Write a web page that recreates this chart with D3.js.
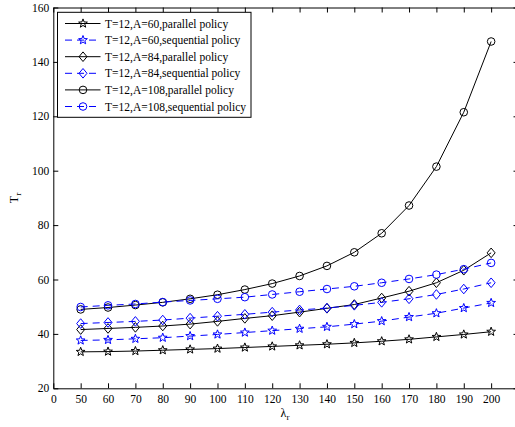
<!DOCTYPE html>
<html>
<head>
<meta charset="utf-8">
<script src="https://cdn.jsdelivr.net/npm/d3@7"></script>
<style>
  html, body { margin: 0; padding: 0; background: #fff; }
  svg { display: block; }
  text { font-family: "Liberation Serif", "Times New Roman", serif; }
</style>
</head>
<body>
<svg id="chart" width="515" height="427"></svg>
<script>
// ---- data ----
const xTickLabels = ["0","50","60","70","80","90","100","110","120","130","140","150","160","170","180","190","200"];
const lambdas = [50,60,70,80,90,100,110,120,130,140,150,160,170,180,190,200];
const yTicks = [20,40,60,80,100,120,140,160];

const a60Parallel   = [33.4,33.5,33.7,34.0,34.3,34.6,35.0,35.4,35.8,36.2,36.7,37.3,38.0,38.9,39.8,40.8];
const a60Sequential = [37.6,37.8,38.2,38.6,39.2,39.8,40.5,41.2,41.9,42.6,43.6,44.7,46.2,47.6,49.5,51.4];
const a84Parallel   = [41.6,42.0,42.4,42.9,43.6,44.6,45.7,46.7,48.0,49.4,50.8,53.2,55.7,58.8,63.4,69.8];
const a84Sequential = [43.8,44.2,44.6,45.1,45.8,46.5,47.2,48.0,48.8,49.5,50.5,51.6,52.9,54.5,56.5,58.8];
const a108Parallel  = [49.0,49.7,50.6,51.6,52.9,54.4,56.3,58.5,61.3,65.0,70.0,77.0,87.2,101.5,121.5,147.5];
const a108Sequential= [49.9,50.5,51.0,51.7,52.3,52.9,53.5,54.5,55.5,56.5,57.5,58.8,60.2,61.8,63.8,66.1];

const seriesNames = [
  "T=12,A=60,parallel policy",
  "T=12,A=60,sequential policy",
  "T=12,A=84,parallel policy",
  "T=12,A=84,sequential policy",
  "T=12,A=108,parallel policy",
  "T=12,A=108,sequential policy"
];
const seriesValues = [a60Parallel, a60Sequential, a84Parallel, a84Sequential, a108Parallel, a108Sequential];
const seriesMarkers = ["star","star","diamond","diamond","circle","circle"];
const seriesColors = ["#000","#00f","#000","#00f","#000","#00f"];
const seriesDashed = [false,true,false,true,false,true];

// ---- layout ----
const L = 53.3, R = 518.5, T = 7.5, B = 388.3;
const svg = d3.select("#chart");

const x = d3.scaleLinear().domain([0, xTickLabels.length]).range([L, R]);
const y = d3.scaleLinear().domain([20, 160]).range([B, T]);
const xi = lam => xTickLabels.indexOf(String(lam));

// axes
const tickIdx = xTickLabels.map((d, i) => i);
const fontSize = "11.5px";

const gB = svg.append("g").attr("transform", `translate(0,${B})`)
  .call(d3.axisBottom(x).tickValues(tickIdx).tickFormat(i => xTickLabels[i]).tickSizeInner(-5).tickSizeOuter(0).tickPadding(6.5));
const gT = svg.append("g").attr("transform", `translate(0,${T})`)
  .call(d3.axisTop(x).tickValues(tickIdx).tickFormat("").tickSizeInner(-5).tickSizeOuter(0));
const gL = svg.append("g").attr("transform", `translate(${L},0)`)
  .call(d3.axisLeft(y).tickValues(yTicks).tickFormat(d3.format("d")).tickSizeInner(-5).tickSizeOuter(0).tickPadding(4));
const gR = svg.append("g").attr("transform", `translate(${R},0)`)
  .call(d3.axisRight(y).tickValues(yTicks).tickFormat("").tickSizeInner(-5).tickSizeOuter(0));

[gB, gT, gL, gR].forEach(g => {
  g.selectAll("path.domain").attr("stroke", "#000").attr("stroke-width", 1);
  g.selectAll(".tick line").attr("stroke", "#000").attr("stroke-width", 1);
  g.selectAll("text").attr("fill", "#000").style("font-family", '"Liberation Serif", serif').style("font-size", fontSize);
});

// axis labels
const xl = svg.append("text").attr("x", 285).attr("y", 416.5).attr("text-anchor", "middle")
  .style("font-size", "12px").attr("fill", "#000");
xl.append("tspan").text("λ");
xl.append("tspan").attr("dy", 3).style("font-size", "9px").text("r");

const yl = svg.append("text").attr("transform", "translate(17.5,198) rotate(-90)").attr("text-anchor", "middle")
  .style("font-size", "12px").attr("fill", "#000");
yl.append("tspan").text("T");
yl.append("tspan").attr("dy", 3).style("font-size", "9px").text("r");

// marker path generators
function starPath(R0) {
  const r0 = R0 * 0.42;
  let p = "";
  for (let k = 0; k < 10; k++) {
    const ang = -Math.PI / 2 + k * Math.PI / 5;
    const rr = k % 2 === 0 ? R0 : r0;
    p += (k === 0 ? "M" : "L") + (rr * Math.cos(ang)).toFixed(2) + "," + (rr * Math.sin(ang)).toFixed(2);
  }
  return p + "Z";
}
const markerPaths = {
  star: starPath(4.6),
  diamond: "M0,-4.8L4,0L0,4.8L-4,0Z",
  circle: d3.path ? (() => { const p = d3.path(); p.arc(0, 0, 3.8, 0, 2 * Math.PI); p.closePath(); return p.toString(); })() : ""
};

// series
const line = d3.line().x(d => x(xi(d[0]))).y(d => y(d[1])).curve(d3.curveLinear);
const plot = svg.append("g");
seriesValues.forEach((vals, s) => {
  const pts = lambdas.map((l, i) => [l, vals[i]]);
  plot.append("path").datum(pts)
    .attr("d", line).attr("fill", "none")
    .attr("stroke", seriesColors[s]).attr("stroke-width", 1)
    .attr("stroke-dasharray", seriesDashed[s] ? "7,5" : null);
  plot.selectAll(null).data(pts).enter().append("path")
    .attr("d", markerPaths[seriesMarkers[s]])
    .attr("transform", d => `translate(${x(xi(d[0]))},${y(d[1])})`)
    .attr("fill", "none").attr("stroke", seriesColors[s]).attr("stroke-width", 1);
});

// legend
const leg = svg.append("g");
leg.append("rect").attr("x", 57.5).attr("y", 12.3).attr("width", 193.5).attr("height", 105)
  .attr("fill", "#fff").attr("stroke", "#000").attr("stroke-width", 1);
seriesNames.forEach((name, s) => {
  const ry = 23.5 + s * 16.6;
  leg.append("line").attr("x1", 65).attr("x2", 100.5).attr("y1", ry).attr("y2", ry)
    .attr("stroke", seriesColors[s]).attr("stroke-width", 1)
    .attr("stroke-dasharray", seriesDashed[s] ? "7,5" : null);
  leg.append("path").attr("d", markerPaths[seriesMarkers[s]])
    .attr("transform", `translate(83,${ry})`)
    .attr("fill", "none").attr("stroke", seriesColors[s]).attr("stroke-width", 1);
  leg.append("text").attr("x", 105).attr("y", ry).attr("dy", "0.35em")
    .style("font-size", "11.5px").attr("fill", "#000").text(name);
});
</script>
</body>
</html>
